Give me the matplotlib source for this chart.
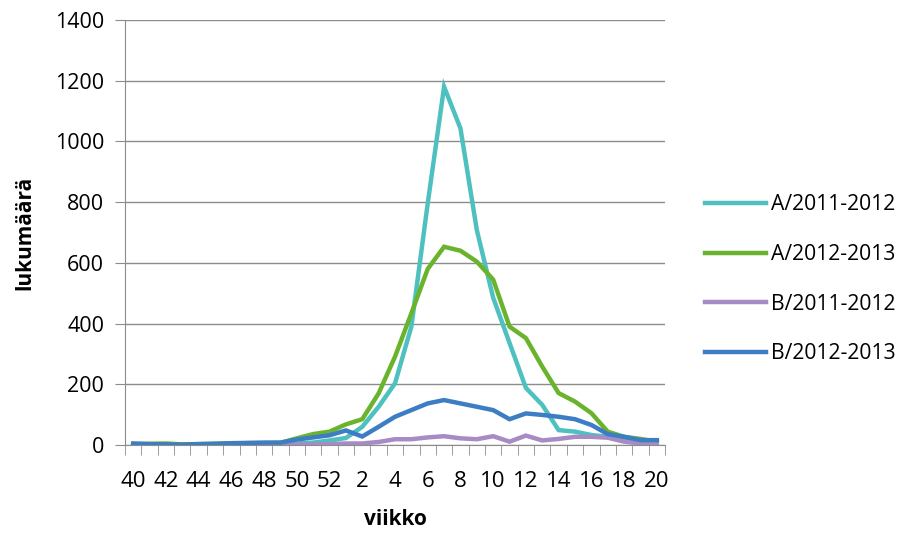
import matplotlib.pyplot as plt
import numpy as np

plt.rcParams['font.family'] = ['Open Sans', 'DejaVu Sans']

weeks = [40, 41, 42, 43, 44, 45, 46, 47, 48, 49, 50, 51, 52,
         1, 2, 3, 4, 5, 6, 7, 8, 9, 10, 11, 12, 13, 14, 15, 16, 17, 18, 19, 20]

a_2011 = [2, 2, 1, 1, 2, 3, 3, 4, 4, 5, 5, 8, 15,
          23, 60, 126, 203, 390, 796, 1180, 1043, 708, 485, 336, 188, 132, 49, 44, 33, 27, 16, 6, 5]
a_2012 = [3, 4, 5, 2, 3, 4, 5, 6, 6, 7, 22, 36, 44,
          68, 85, 170, 291, 434, 580, 653, 640, 604, 545, 390, 352, 258, 171, 143, 105, 44, 27, 20, 11]
b_2011 = [0, 0, 0, 0, 0, 0, 0, 0, 0, 0, 1, 2, 3,
          5, 5, 10, 19, 19, 25, 29, 22, 19, 29, 11, 31, 15, 20, 27, 27, 24, 11, 5, 5]
b_2012 = [5, 3, 2, 1, 3, 4, 6, 7, 8, 8, 18, 25, 32,
          48, 28, 60, 93, 115, 137, 148, 137, 126, 115, 85, 104, 99, 93, 85, 66, 36, 27, 16, 16]

series = [("A/2011-2012", a_2011, '#4EC0C0'),
          ("A/2012-2013", a_2012, '#6AB42D'),
          ("B/2011-2012", b_2011, '#A78BC4'),
          ("B/2012-2013", b_2012, '#3C7DC4')]

fig = plt.figure(figsize=(9.09, 5.33), dpi=100)
ax = fig.add_axes([125 / 909, 88 / 533, 540 / 909, 425 / 533])

x = np.arange(len(weeks))
for name, vals, col in series:
    ax.plot(x, vals, color=col, lw=3.2, label=name, solid_joinstyle='miter')

ax.set_xlim(-0.5, len(weeks) - 0.5)
ax.set_ylim(0, 1400)
ax.set_yticks(range(0, 1401, 200))
ax.yaxis.grid(True, color='#8c8c8c', lw=1)
ax.set_axisbelow(True)

ax.set_xticks(x[::2])
ax.set_xticklabels([str(w) for w in weeks[::2]])
ax.set_xticks(np.arange(-0.5, len(weeks), 1), minor=True)
ax.tick_params(axis='x', which='major', length=0, pad=19, labelsize=16)
ax.tick_params(axis='x', which='minor', length=7, color='#8c8c8c', direction='out')
ax.tick_params(axis='y', length=7, color='#8c8c8c', labelsize=15.5, pad=8)

for s in ['top', 'right']:
    ax.spines[s].set_visible(False)
for s in ['left', 'bottom']:
    ax.spines[s].set_color('#8c8c8c')

ax.set_ylabel("lukumäärä", fontsize=15, fontweight='bold', labelpad=14)
ax.set_xlabel("viikko", fontsize=15, fontweight='bold', labelpad=12)

ax.legend(loc='center left', bbox_to_anchor=(1.055, 0.39), frameon=False, fontsize=15.2,
          handlelength=2.9, handletextpad=0.2, labelspacing=1.35, borderpad=0)

fig.savefig("out.png", dpi=100)
